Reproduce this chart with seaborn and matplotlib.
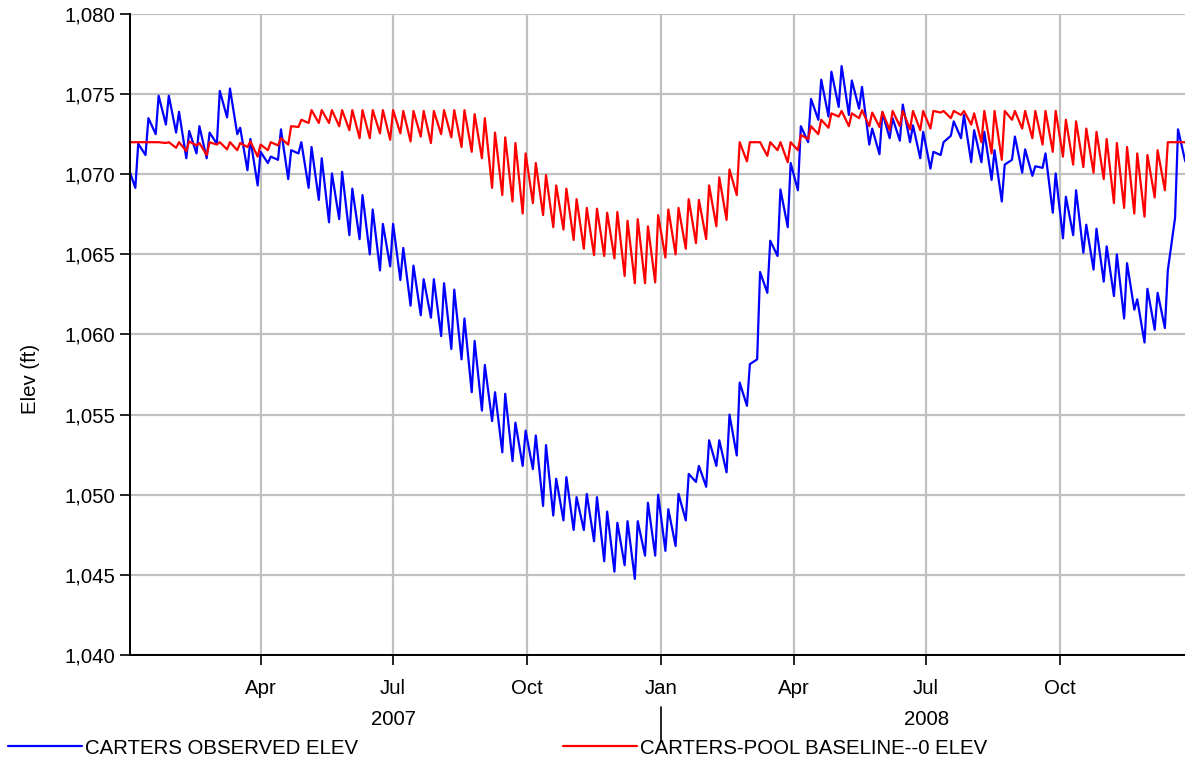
import pandas as pd
import matplotlib
matplotlib.use("Agg")
import matplotlib.pyplot as plt
import matplotlib.dates as mdates
import matplotlib.transforms as mtransforms
from matplotlib.lines import Line2D
from matplotlib.ticker import FuncFormatter
import seaborn as sns

# Carters pool elevation (ft): weekly low (Friday) and weekly high (Sunday)
start_date = "2007-01-01"
first_high = "2007-01-07"
observed_start = 1070.2
baseline_start = 1072.0

observed_low = [
    1069.15, 1071.2, 1072.5, 1073.1, 1072.6, 1071.0, 1071.3, 1071.0, 1071.9, 1073.55,
    1072.5, 1070.25, 1069.3, 1070.7, 1070.9, 1069.7, 1071.3, 1069.15, 1068.4, 1067.0,
    1067.2, 1066.2, 1065.95, 1065.0, 1064.0, 1064.25, 1063.4, 1061.8, 1061.2, 1061.05,
    1059.9, 1059.1, 1058.45, 1056.4, 1055.25, 1054.6, 1052.65, 1052.1, 1051.8, 1051.6,
    1049.3, 1048.7, 1048.4, 1047.8, 1047.8, 1047.1, 1045.85, 1045.2, 1045.6, 1044.75,
    1046.2, 1046.2, 1046.5, 1046.8, 1048.4, 1050.8, 1050.5, 1051.8, 1051.4, 1052.45,
    1055.55, 1058.45, 1062.6, 1064.9, 1066.7, 1069.0, 1072.0, 1073.4, 1073.6, 1074.2,
    1073.7, 1074.1, 1071.85, 1071.25, 1072.25, 1072.1, 1072.0, 1071.0, 1070.35, 1071.2,
    1072.4, 1072.25, 1070.75, 1070.75, 1069.65, 1068.3, 1070.9, 1070.1, 1069.9, 1070.4,
    1067.6, 1066.0, 1066.2, 1065.1, 1064.05, 1063.3, 1062.4, 1061.0, 1061.55, 1059.5,
    1060.3, 1060.4, 1067.3, 1070.8,
]
observed_high = [
    1071.9, 1073.5, 1074.9, 1074.9, 1073.9, 1072.7, 1073.0, 1072.6, 1075.2, 1075.35,
    1072.9, 1072.2, 1071.4, 1071.1, 1072.8, 1071.5, 1072.0, 1071.7, 1071.0, 1070.05,
    1070.15, 1069.1, 1068.7, 1067.8, 1066.9, 1066.9, 1065.4, 1064.3, 1063.45, 1063.45,
    1063.2, 1062.8, 1061.0, 1059.6, 1058.1, 1056.4, 1056.3, 1054.5, 1054.0, 1053.7,
    1053.1, 1051.0, 1051.1, 1049.85, 1050.05, 1049.85, 1048.95, 1048.25, 1048.35, 1048.35,
    1049.5, 1050.0, 1049.1, 1050.05, 1051.3, 1051.8, 1053.4, 1053.4, 1055.0, 1057.0,
    1058.15, 1063.9, 1065.85, 1069.05, 1070.7, 1073.0, 1074.7, 1075.9, 1076.4, 1076.75,
    1075.85, 1075.45, 1072.85, 1073.85, 1073.5, 1074.35, 1073.05, 1072.65, 1071.4, 1072.0,
    1073.3, 1073.7, 1072.75, 1072.65, 1071.5, 1070.6, 1072.35, 1071.55, 1070.5, 1071.3,
    1070.05, 1068.6, 1069.0, 1066.85, 1066.6, 1065.5, 1065.0, 1064.45, 1062.2, 1062.85,
    1062.6, 1064.0, 1072.8,
]
baseline_low = [
    1072.0, 1072.0, 1072.0, 1071.95, 1071.65, 1071.45, 1071.8, 1071.2, 1071.85, 1071.55,
    1071.5, 1071.7, 1071.1, 1071.5, 1071.8, 1071.85, 1072.95, 1073.2, 1073.2, 1073.2,
    1073.0, 1072.75, 1072.25, 1072.25, 1072.55, 1072.15, 1072.55, 1072.05, 1072.35, 1071.95,
    1072.5, 1072.3, 1071.7, 1071.4, 1071.0, 1069.15, 1068.7, 1068.3, 1067.55, 1068.2,
    1067.45, 1066.7, 1066.55, 1065.9, 1065.35, 1064.95, 1064.9, 1064.75, 1063.65, 1063.2,
    1063.2, 1063.25, 1064.8, 1065.0, 1065.35, 1065.7, 1065.95, 1066.75, 1067.15, 1068.7,
    1070.8, 1072.0, 1071.15, 1071.5, 1070.75, 1071.5, 1072.2, 1072.5, 1072.9, 1073.6,
    1073.0, 1073.5, 1073.0, 1072.95, 1072.75, 1073.0, 1072.8, 1072.75, 1072.85, 1073.85,
    1073.5, 1073.7, 1073.1, 1072.0, 1071.3, 1070.9, 1073.4, 1072.85, 1072.25, 1071.85,
    1071.4, 1071.1, 1070.6, 1070.45, 1070.1, 1069.7, 1068.2, 1067.9, 1067.55, 1067.35,
    1068.55, 1069.0, 1072.0, 1072.0,
]
baseline_high = [
    1072.0, 1072.0, 1072.0, 1072.0, 1072.0, 1072.05, 1071.95, 1072.0, 1072.0, 1072.0,
    1071.95, 1072.05, 1071.85, 1072.0, 1072.25, 1073.0, 1073.4, 1074.0, 1074.0, 1074.0,
    1074.0, 1074.0, 1074.0, 1074.0, 1074.0, 1074.0, 1073.95, 1073.95, 1073.95, 1073.95,
    1074.0, 1074.0, 1074.0, 1073.75, 1073.5, 1072.6, 1072.3, 1071.95, 1071.3, 1070.7,
    1069.95, 1069.3, 1069.1, 1068.45, 1067.9, 1067.85, 1067.6, 1067.65, 1067.1, 1067.2,
    1066.75, 1067.45, 1067.8, 1067.9, 1068.45, 1068.4, 1069.3, 1069.8, 1070.3, 1072.0,
    1072.0, 1072.0, 1072.0, 1072.0, 1072.0, 1072.45, 1073.0, 1073.4, 1073.8, 1073.95,
    1073.8, 1074.0, 1073.85, 1073.9, 1073.95, 1073.95, 1073.95, 1073.95, 1073.95, 1073.95,
    1073.95, 1073.95, 1073.8, 1073.95, 1073.95, 1073.95, 1073.95, 1073.95, 1073.95, 1073.95,
    1073.95, 1073.4, 1073.3, 1072.85, 1072.65, 1072.2, 1071.95, 1071.7, 1071.3, 1071.2,
    1071.5, 1072.0, 1072.0,
]

series_names = ["CARTERS OBSERVED ELEV", "CARTERS-POOL BASELINE--0 ELEV"]
series_colors = ["#0000ff", "#ff0000"]
month_ticks = ["2007-04-01", "2007-07-01", "2007-10-01", "2008-01-01",
               "2008-04-01", "2008-07-01", "2008-10-01"]
month_labels = ["Apr", "Jul", "Oct", "Jan", "Apr", "Jul", "Oct"]
year_labels = ["2007", "2008"]
year_centers = ["2007-07-01", "2008-07-01"]
year_break = "2008-01-01"
y_ticks = list(range(1040, 1081, 5))
x_end_days = 724.8
FS = 14.7


def weekly_frame(name, start_val, lows, highs):
    highs_at = pd.date_range(first_high, periods=len(highs), freq="7D")
    lows_at = pd.date_range(pd.Timestamp(first_high) - pd.Timedelta(days=2),
                            periods=len(lows), freq="7D")
    rows = [(pd.Timestamp(start_date), start_val)]
    for i, low in enumerate(lows):
        rows.append((lows_at[i], low))
        if i < len(highs):
            rows.append((highs_at[i], highs[i]))
    df = pd.DataFrame(rows, columns=["date", "elev"])
    df["series"] = name
    return df


data = pd.concat([
    weekly_frame(series_names[0], observed_start, observed_low, observed_high),
    weekly_frame(series_names[1], baseline_start, baseline_low, baseline_high),
], ignore_index=True)

sns.set_style("white")
plt.rcParams["font.family"] = ["Liberation Sans", "DejaVu Sans"]
plt.rcParams["text.color"] = "black"

W, H = 1185, 757
fig = plt.figure(figsize=(W / 100, H / 100), dpi=100)
ax = fig.add_axes([129.5 / W, 1 - 655 / H, 1 - 129.5 / W, (655 - 14) / H])

sns.lineplot(data=data, x="date", y="elev", hue="series", hue_order=series_names,
             palette=series_colors, estimator=None, sort=False, linewidth=1.6,
             legend=False, ax=ax)

x0 = pd.Timestamp(start_date)
ax.set_xlim(x0, x0 + pd.Timedelta(days=x_end_days))
ax.set_ylim(1040, 1080)
ax.set_yticks(y_ticks)
ax.yaxis.set_major_formatter(FuncFormatter(lambda v, _: f"{v:,.0f}"))
ax.set_xticks(pd.to_datetime(month_ticks))
ax.set_xticklabels(month_labels)
ax.set_xlabel("")
ax.set_ylabel("")

ax.grid(True, color="#c0c0c0", linewidth=1.6)
ax.set_axisbelow(True)
for side in ("top", "right"):
    ax.spines[side].set_visible(False)
for side in ("left", "bottom"):
    ax.spines[side].set_color("black")
    ax.spines[side].set_linewidth(1.4)

ax.tick_params(axis="y", direction="out", length=7, width=1.2, pad=3,
               labelsize=FS, colors="black", left=True)
ax.tick_params(axis="x", direction="out", length=7, width=1.2, pad=10,
               labelsize=FS, colors="black", bottom=True)

blend = mtransforms.blended_transform_factory(ax.transData, ax.transAxes)
for label, center in zip(year_labels, year_centers):
    ax.text(pd.Timestamp(center), -0.1, label, transform=blend,
            ha="center", va="center", fontsize=FS)
xb = mdates.date2num(pd.Timestamp(year_break))
ax.add_line(Line2D([xb, xb], [-0.081, -0.135], transform=blend, color="black",
                   linewidth=1.2, clip_on=False))

fig.text(30 / W, 0.5, "Elev (ft)", rotation=90, ha="center", va="center", fontsize=FS)

# legend row along the bottom edge
legend_y = 1 - 748 / H
line_y = 1 - 746 / H
for name, color, (x_a, x_b, x_t) in zip(series_names, series_colors,
                                         [(8, 82, 85), (563, 637, 640)]):
    fig.add_artist(Line2D([x_a / W, x_b / W], [line_y, line_y], color=color,
                          linewidth=1.6, transform=fig.transFigure))
    fig.text(x_t / W, legend_y, name, ha="left", va="center", fontsize=FS)

fig.savefig("out.png", dpi=100)
